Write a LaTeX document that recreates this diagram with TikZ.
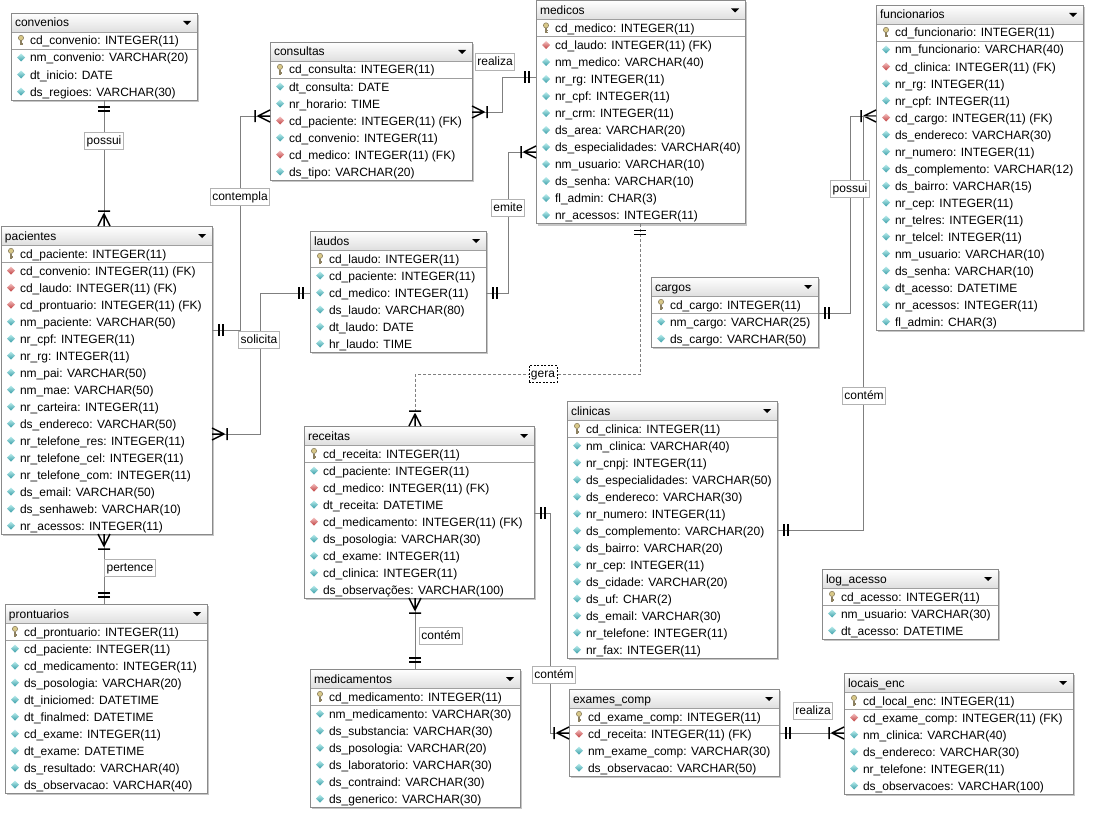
\documentclass[tikz,border=0pt]{standalone}
\usepackage{fontspec}
\setmainfont{Liberation Sans}
\usetikzlibrary{calc}

\definecolor{linegray}{HTML}{7F7F7F}
\definecolor{boxgray}{HTML}{8A8A8A}
\definecolor{attrA}{HTML}{B8ECEC}
\definecolor{attrB}{HTML}{3A9EA8}
\definecolor{fkA}{HTML}{F4C0C0}
\definecolor{fkB}{HTML}{C04040}
\definecolor{keyc}{HTML}{D8C888}
\definecolor{keyd}{HTML}{8C8060}

\tikzset{
  every node/.style={font=\fontsize{12}{14}\selectfont, inner sep=0pt, outer sep=0pt},
  tblbox/.style={draw=boxgray, line width=0.9pt, rectangle},
  conn/.style={draw=linegray, line width=0.8pt},
  cardmk/.style={draw=black, line width=1.5pt, line join=round},
  rel/.style={draw=gray!60, fill=white, line width=0.6pt, inner xsep=2pt, inner ysep=2.5pt, text height=9pt, text depth=3pt},
}

% primary key icon
\newcommand\keyicon[1]{\begin{scope}[shift={#1}]
  \draw[keyd, fill=keyc, line width=0.6pt] (0pt,2.6pt) circle (2.6pt);
  \draw[keyd, line width=1.3pt] (0pt,0pt) -- (0pt,-5pt);
  \draw[keyd, line width=0.8pt] (0pt,-2.5pt) -- (1.8pt,-2.5pt) (0pt,-4.3pt) -- (1.8pt,-4.3pt);
\end{scope}}
% attribute diamond
\newcommand\attricon[3]{\begin{scope}[shift={#1}]
  \shade[top color=#2, bottom color=#3] (0pt,4pt) -- (4pt,0pt) -- (0pt,-4pt) -- (-4pt,0pt) -- cycle;
\end{scope}}

% table: name, left, top, width, rows, title, rows list (p = key, f = foreign key, a = attribute)
\newcommand\ertable[7]{%
  \pgfmathsetmacro\tabH{19+17*#5}%
  \fill[gray!45] (#2+2,#3+2) rectangle ++(#4,\tabH);
  \fill[white] (#2,#3) rectangle ++(#4,\tabH);
  \shade[top color=white, bottom color=gray!25] (#2,#3) rectangle ++(#4,19);
  \draw[gray!75, line width=0.7pt] (#2,#3+19) -- ++(#4,0) (#2,#3+36) -- ++(#4,0);
  \node[anchor=base west] (#1-title) at (#2+4,#3+14) {#6};
  \fill (#2+#4-14,#3+8) -- ++(8,0) -- ++(-4,4) -- cycle;
  \foreach \rk/\rt [count=\ri from 0] in {#7}{%
    \pgfmathsetmacro\ry{#3+27.5+17*\ri}%
    \if\rk p\keyicon{(#2+10,\ry)}\else\if\rk f\attricon{(#2+10,\ry)}{fkA}{fkB}\else\attricon{(#2+10,\ry)}{attrA}{attrB}\fi\fi
    \node[anchor=base west] (#1-r\ri) at (#2+19,\ry+4.5) {\rt};
  }
  \node[tblbox, minimum width=#4pt, minimum height=\tabH pt, anchor=north west] (#1) at (#2,#3) {};
}

% cardinality marks; #1 point on the table edge, #2 direction pointing away from the table
\newcommand\relone[2]{\begin{scope}[shift={#1}, rotate=#2]
  \draw[cardmk] (7pt,-6pt) -- (7pt,6pt) (11pt,-6pt) -- (11pt,6pt);
\end{scope}}
\newcommand\relmany[2]{\begin{scope}[shift={#1}, rotate=#2]
  \draw[cardmk] (0pt,6pt) -- (12pt,0pt) -- (0pt,-6pt) (0pt,0pt) -- (12pt,0pt) (15pt,-6pt) -- (15pt,6pt);
\end{scope}}

\begin{document}
\begin{tikzpicture}[x=1pt, y=-1pt]
\useasboundingbox (0,0) rectangle (1102,816);
\fill[white] (0,0) rectangle (1102,816);

% ---------------- tables ----------------
\ertable{convenios}{11}{13}{186}{4}{convenios}{p/cd\_convenio: INTEGER(11), a/nm\_convenio: VARCHAR(20), a/dt\_inicio: DATE, a/ds\_regioes: VARCHAR(30)}

\ertable{consultas}{270}{42}{202}{7}{consultas}{p/cd\_consulta: INTEGER(11), a/dt\_consulta: DATE, a/nr\_horario: TIME, f/cd\_paciente: INTEGER(11) (FK), a/cd\_convenio: INTEGER(11), f/cd\_medico: INTEGER(11) (FK), a/ds\_tipo: VARCHAR(20)}

\ertable{medicos}{536}{0.5}{209}{12}{medicos}{p/cd\_medico: INTEGER(11), f/cd\_laudo: INTEGER(11) (FK), a/nm\_medico: VARCHAR(40), a/nr\_rg: INTEGER(11), a/nr\_cpf: INTEGER(11), a/nr\_crm: INTEGER(11), a/ds\_area: VARCHAR(20), a/ds\_especialidades: VARCHAR(40), a/nm\_usuario: VARCHAR(10), a/ds\_senha: VARCHAR(10), a/fl\_admin: CHAR(3), a/nr\_acessos: INTEGER(11)}

\ertable{funcionarios}{876}{5}{207}{18}{funcionarios}{p/cd\_funcionario: INTEGER(11), a/nm\_funcionario: VARCHAR(40), f/cd\_clinica: INTEGER(11) (FK), a/nr\_rg: INTEGER(11), a/nr\_cpf: INTEGER(11), f/cd\_cargo: INTEGER(11) (FK), a/ds\_endereco: VARCHAR(30), a/nr\_numero: INTEGER(11), a/ds\_complemento: VARCHAR(12), a/ds\_bairro: VARCHAR(15), a/nr\_cep: INTEGER(11), a/nr\_telres: INTEGER(11), a/nr\_telcel: INTEGER(11), a/nm\_usuario: VARCHAR(10), a/ds\_senha: VARCHAR(10), a/dt\_acesso: DATETIME, a/nr\_acessos: INTEGER(11), a/fl\_admin: CHAR(3)}

\ertable{pacientes}{1}{226}{211}{17}{pacientes}{p/cd\_paciente: INTEGER(11), f/cd\_convenio: INTEGER(11) (FK), f/cd\_laudo: INTEGER(11) (FK), f/cd\_prontuario: INTEGER(11) (FK), a/nm\_paciente: VARCHAR(50), a/nr\_cpf: INTEGER(11), a/nr\_rg: INTEGER(11), a/nm\_pai: VARCHAR(50), a/nm\_mae: VARCHAR(50), a/nr\_carteira: INTEGER(11), a/ds\_endereco: VARCHAR(50), a/nr\_telefone\_res: INTEGER(11), a/nr\_telefone\_cel: INTEGER(11), a/nr\_telefone\_com: INTEGER(11), a/ds\_email: VARCHAR(50), a/ds\_senhaweb: VARCHAR(10), a/nr\_acessos: INTEGER(11)}

\ertable{laudos}{310}{231}{176}{6}{laudos}{p/cd\_laudo: INTEGER(11), a/cd\_paciente: INTEGER(11), a/cd\_medico: INTEGER(11), a/ds\_laudo: VARCHAR(80), a/dt\_laudo: DATE, a/hr\_laudo: TIME}

\ertable{cargos}{651}{277}{167}{3}{cargos}{p/cd\_cargo: INTEGER(11), a/nm\_cargo: VARCHAR(25), a/ds\_cargo: VARCHAR(50)}

\ertable{receitas}{304}{426}{230}{9}{receitas}{p/cd\_receita: INTEGER(11), a/cd\_paciente: INTEGER(11), f/cd\_medico: INTEGER(11) (FK), a/dt\_receita: DATETIME, f/cd\_medicamento: INTEGER(11) (FK), a/ds\_posologia: VARCHAR(30), a/cd\_exame: INTEGER(11), a/cd\_clinica: INTEGER(11), a/ds\_observações: VARCHAR(100)}

\ertable{clinicas}{567}{401}{210}{14}{clinicas}{p/cd\_clinica: INTEGER(11), a/nm\_clinica: VARCHAR(40), a/nr\_cnpj: INTEGER(11), a/ds\_especialidades: VARCHAR(50), a/ds\_endereco: VARCHAR(30), a/nr\_numero: INTEGER(11), a/ds\_complemento: VARCHAR(20), a/ds\_bairro: VARCHAR(20), a/nr\_cep: INTEGER(11), a/ds\_cidade: VARCHAR(20), a/ds\_uf: CHAR(2), a/ds\_email: VARCHAR(30), a/nr\_telefone: INTEGER(11), a/nr\_fax: INTEGER(11)}

\ertable{logacesso}{822}{569}{176}{3}{log\_acesso}{p/cd\_acesso: INTEGER(11), a/nm\_usuario: VARCHAR(30), a/dt\_acesso: DATETIME}

\ertable{prontuarios}{5}{604}{202}{10}{prontuarios}{p/cd\_prontuario: INTEGER(11), a/cd\_paciente: INTEGER(11), a/cd\_medicamento: INTEGER(11), a/ds\_posologia: VARCHAR(20), a/dt\_iniciomed: DATETIME, a/dt\_finalmed: DATETIME, a/cd\_exame: INTEGER(11), a/dt\_exame: DATETIME, a/ds\_resultado: VARCHAR(40), a/ds\_observacao: VARCHAR(40)}

\ertable{medicamentos}{310}{669}{210}{7}{medicamentos}{p/cd\_medicamento: INTEGER(11), a/nm\_medicamento: VARCHAR(30), a/ds\_substancia: VARCHAR(30), a/ds\_posologia: VARCHAR(20), a/ds\_laboratorio: VARCHAR(30), a/ds\_contraind: VARCHAR(30), a/ds\_generico: VARCHAR(30)}

\ertable{examescomp}{569}{689}{210}{4}{exames\_comp}{p/cd\_exame\_comp: INTEGER(11), f/cd\_receita: INTEGER(11) (FK), a/nm\_exame\_comp: VARCHAR(30), a/ds\_observacao: VARCHAR(50)}

\ertable{locaisenc}{844}{673}{229}{6}{locais\_enc}{p/cd\_local\_enc: INTEGER(11), f/cd\_exame\_comp: INTEGER(11) (FK), a/nm\_clinica: VARCHAR(40), a/ds\_endereco: VARCHAR(30), a/nr\_telefone: INTEGER(11), a/ds\_observacoes: VARCHAR(100)}

% ---------------- relationships ----------------
% convenios -- pacientes
\coordinate (pa1) at (convenios.south -| 104,0);
\coordinate (pa2) at (pacientes.north -| 104,0);
\draw[conn] (pa1) -- (pa2);
\relone{(pa1)}{270}\relmany{(pa2)}{90}

% consultas -- pacientes
\coordinate (ct1) at (consultas.west |- 0,116);
\coordinate (ct2) at (pacientes.east |- 0,330);
\draw[conn] (ct1) -- ++(-30,0) |- (ct2);
\relmany{(ct1)}{180}\relone{(ct2)}{0}

% laudos -- pacientes
\coordinate (so1) at (laudos.west |- 0,293);
\coordinate (so2) at (pacientes.east |- 0,434);
\draw[conn] (so1) -- ++(-50,0) |- (so2);
\relone{(so1)}{180}\relmany{(so2)}{0}

% consultas -- medicos
\coordinate (re1) at (consultas.east |- 0,112);
\coordinate (re2) at (medicos.west |- 0,77);
\draw[conn] (re1) -- ++(30,0) |- (re2);
\relmany{(re1)}{0}\relone{(re2)}{180}

% medicos -- laudos
\coordinate (em1) at (medicos.west |- 0,152);
\coordinate (em2) at (laudos.east |- 0,293);
\draw[conn] (em1) -- ++(-28,0) |- (em2);
\relmany{(em1)}{180}\relone{(em2)}{0}

% medicos -- receitas (non-identifying)
\coordinate (ge1) at (medicos.south -| 640,0);
\coordinate (ge2) at (receitas.north -| 415,0);
\draw[conn, dash pattern=on 3pt off 2pt] (ge1) -- ++(0,151) -| (ge2);
\relone{(ge1)}{270}\relmany{(ge2)}{90}

% cargos -- funcionarios
\coordinate (po1) at (cargos.east |- 0,313);
\coordinate (po2) at (funcionarios.west |- 0,116);
\draw[conn] (po1) -- ++(32,0) |- (po2);
\relone{(po1)}{0}\relmany{(po2)}{180}

% clinicas -- funcionarios
\coordinate (cf1) at (clinicas.east |- 0,530);
\draw[conn] (cf1) -- ++(86,0) |- (po2);
\relone{(cf1)}{0}

% receitas -- exames_comp
\coordinate (rx1) at (receitas.east |- 0,513);
\coordinate (rx2) at (examescomp.west |- 0,733);
\draw[conn] (rx1) -- ++(16,0) |- (rx2);
\relone{(rx1)}{0}\relmany{(rx2)}{180}

% receitas -- medicamentos
\coordinate (rm1) at (receitas.south -| 415,0);
\coordinate (rm2) at (medicamentos.north -| 415,0);
\draw[conn] (rm1) -- (rm2);
\relmany{(rm1)}{270}\relone{(rm2)}{90}

% exames_comp -- locais_enc
\coordinate (rl1) at (examescomp.east |- 0,733);
\coordinate (rl2) at (locaisenc.west |- 0,733);
\draw[conn] (rl1) -- (rl2);
\relone{(rl1)}{0}\relmany{(rl2)}{180}

% pacientes -- prontuarios
\coordinate (pe1) at (pacientes.south -| 104,0);
\coordinate (pe2) at (prontuarios.north -| 104,0);
\draw[conn] (pe1) -- (pe2);
\relmany{(pe1)}{270}\relone{(pe2)}{90}

% ---------------- relationship names ----------------
\node[rel] (lb-possui) at (104,141) {possui};
\node[rel] (lb-contempla) at (240,197) {contempla};
\node[rel] (lb-solicita) at (259,340) {solicita};
\node[rel] (lb-realiza) at (495,62) {realiza};
\node[rel] (lb-emite) at (508,208) {emite};
\node[rel, draw=black, dash pattern=on 2pt off 1.5pt] (lb-gera) at (543,374) {gera};
\node[rel] (lb-possui2) at (850,189) {possui};
\node[rel] (lb-contem) at (864,396) {contém};
\node[rel] (lb-contem2) at (554,675) {contém};
\node[rel] (lb-contem3) at (441,636) {contém};
\node[rel] (lb-realiza2) at (813,711) {realiza};
\node[rel] (lb-pertence) at (130,568) {pertence};
\end{tikzpicture}
\end{document}
